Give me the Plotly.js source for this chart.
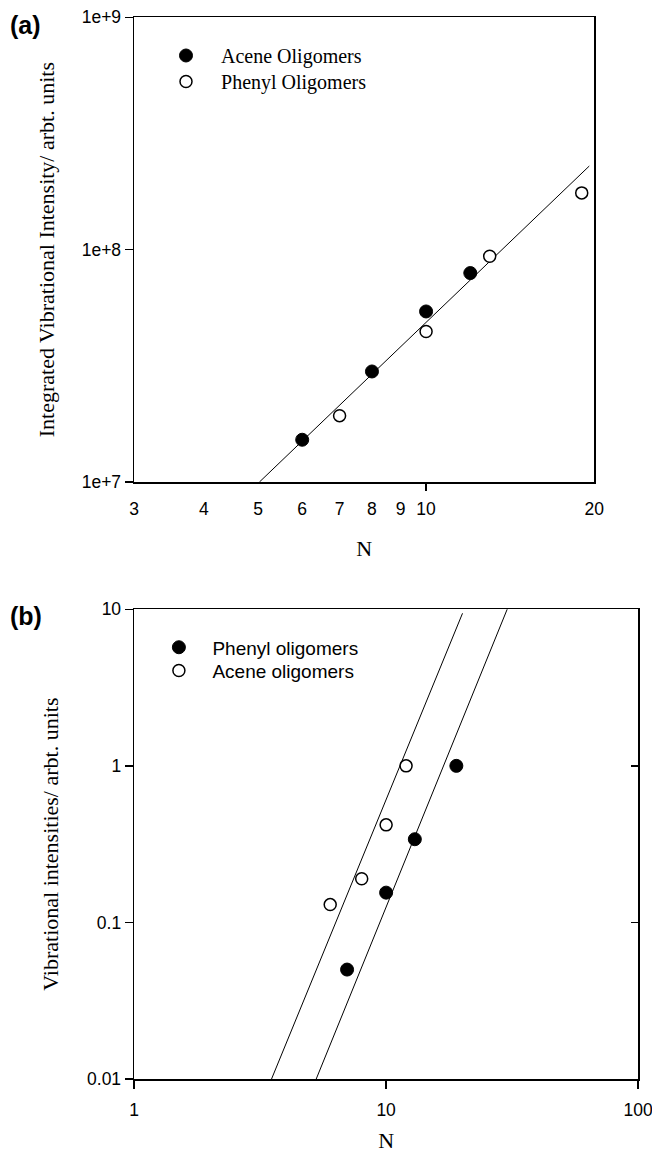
<!DOCTYPE html>
<html>
<head>
<meta charset="utf-8">
<script src="https://cdn.plot.ly/plotly-3.0.1.min.js"></script>
<style>
html,body{margin:0;padding:0;background:#fff;}
#chart{width:652px;height:1153px;}
</style>
</head>
<body>
<div id="chart"></div>
<script>
// ---------- Panel (a) data ----------
const aceneN_a = [6, 8, 10, 12];
const aceneI_a = [1.52e7, 2.99e7, 5.42e7, 7.93e7];
const phenylN_a = [7, 10, 13, 19];
const phenylI_a = [1.93e7, 4.44e7, 9.36e7, 1.755e8];
const fitN_a = [5.03, 19.6];
const fitI_a = [1.0e7, 2.29e8];
const xTicks_a = [3, 4, 5, 6, 7, 8, 9, 10, 20];
const xTickText_a = ['3', '4', '5', '6', '7', '8', '9', '10', '20'];
const yTicks_a = [1e7, 1e8, 1e9];
const yTickText_a = ['1e+7', '1e+8', '1e+9'];

// ---------- Panel (b) data ----------
const phenylN_b = [7, 10, 13, 19];
const phenylV_b = [0.05, 0.155, 0.34, 1.0];
const aceneN_b = [6, 8, 10, 12];
const aceneV_b = [0.13, 0.19, 0.42, 1.0];
const fit1N_b = [3.51, 20.1];
const fit1V_b = [0.01, 9.43];
const fit2N_b = [5.28, 30.6];
const fit2V_b = [0.01, 10.5];
const xTicks_b = [1, 10, 100];
const xTickText_b = ['1', '10', '100'];
const yTicks_b = [0.01, 0.1, 1, 10];
const yTickText_b = ['0.01', '0.1', '1', '10'];

const SANS = 'Liberation Sans, Arial, sans-serif';
const SERIF = 'Liberation Serif, Times New Roman, serif';
const filled = {symbol: 'circle', size: 13, color: '#000', line: {color: '#000', width: 1}};
const open = {symbol: 'circle', size: 12, color: '#fff', line: {color: '#000', width: 1.5}};

const traces = [
  {x: fitN_a, y: fitI_a, xaxis: 'x', yaxis: 'y', mode: 'lines', line: {color: '#000', width: 1}, showlegend: false, hoverinfo: 'skip'},
  {x: aceneN_a, y: aceneI_a, xaxis: 'x', yaxis: 'y', mode: 'markers', name: 'Acene Oligomers', marker: filled, legend: 'legend', cliponaxis: false},
  {x: phenylN_a, y: phenylI_a, xaxis: 'x', yaxis: 'y', mode: 'markers', name: 'Phenyl Oligomers', marker: open, legend: 'legend2', cliponaxis: false},
  {x: [null], y: [null], xaxis: 'x3', yaxis: 'y', mode: 'markers', showlegend: false, hoverinfo: 'skip'},

  {x: fit1N_b, y: fit1V_b, xaxis: 'x2', yaxis: 'y2', mode: 'lines', line: {color: '#000', width: 1}, showlegend: false, hoverinfo: 'skip'},
  {x: fit2N_b, y: fit2V_b, xaxis: 'x2', yaxis: 'y2', mode: 'lines', line: {color: '#000', width: 1}, showlegend: false, hoverinfo: 'skip', cliponaxis: false},
  {x: phenylN_b, y: phenylV_b, xaxis: 'x2', yaxis: 'y2', mode: 'markers', name: 'Phenyl oligomers', marker: filled, legend: 'legend3', cliponaxis: false},
  {x: aceneN_b, y: aceneV_b, xaxis: 'x2', yaxis: 'y2', mode: 'markers', name: 'Acene oligomers', marker: open, legend: 'legend4', cliponaxis: false},
  {x: [null], y: [null], xaxis: 'x2', yaxis: 'y4', mode: 'markers', showlegend: false, hoverinfo: 'skip'}
];

const axBase = {
  type: 'log', showgrid: false, zeroline: false, showline: true, linecolor: '#000', linewidth: 1.5,
  ticks: 'outside', ticklen: 8, tickwidth: 1.5, tickcolor: '#000', tickmode: 'array',
  tickfont: {family: SANS, size: 17.5, color: '#000'}, fixedrange: true, ticklabeloverflow: 'allow'
};

const legBase = {xanchor: 'left', yanchor: 'top', bgcolor: 'rgba(0,0,0,0)', borderwidth: 0};
const legTop = Object.assign({}, legBase, {x: 0.2316, itemwidth: 60, font: {family: SERIF, size: 20, color: '#000'}});
const legBot = Object.assign({}, legBase, {x: 0.223, itemwidth: 57, font: {family: SANS, size: 19, color: '#000'}});

const layout = {
  width: 652, height: 1153,
  margin: {l: 0, r: 0, t: 0, b: 0},
  paper_bgcolor: '#fff', plot_bgcolor: '#fff',
  showlegend: true,
  xaxis: Object.assign({}, axBase, {
    domain: [0.2057, 0.9113], anchor: 'y', range: [Math.log10(3), Math.log10(20)],
    tickvals: xTicks_a, ticktext: xTickText_a, ticks: '', mirror: true, ticklabelstandoff: 10,
    title: {text: 'N', font: {family: SERIF, size: 22, color: '#000'}, standoff: 23}
  }),
  xaxis3: Object.assign({}, axBase, {
    overlaying: 'x', anchor: 'y', side: 'bottom', range: [Math.log10(3), Math.log10(20)],
    tickvals: [10], ticktext: [''], showticklabels: false, showline: false
  }),
  yaxis: Object.assign({}, axBase, {
    domain: [0.58196, 0.98500], anchor: 'x', range: [7, 9],
    tickvals: yTicks_a, ticktext: yTickText_a, mirror: true,
    title: {text: 'Integrated Vibrational Intensity/ arbt. units', font: {family: SERIF, size: 22, color: '#000'}, standoff: 21}
  }),
  xaxis2: Object.assign({}, axBase, {
    domain: [0.2057, 0.9787], anchor: 'y2', range: [0, 2],
    tickvals: xTicks_b, ticktext: xTickText_b, mirror: true, ticklabelstandoff: 6,
    title: {text: 'N', font: {family: SERIF, size: 22, color: '#000'}, standoff: 20}
  }),
  yaxis2: Object.assign({}, axBase, {
    domain: [0.06418, 0.47155], anchor: 'x2', range: [-2, 1],
    tickvals: yTicks_b, ticktext: yTickText_b, mirror: true,
    title: {text: 'Vibrational intensities/ arbt. units', font: {family: SERIF, size: 22, color: '#000'}, standoff: 22}
  }),
  yaxis4: Object.assign({}, axBase, {
    overlaying: 'y2', anchor: 'x2', side: 'right', range: [-2, 1],
    tickvals: yTicks_b, ticks: 'inside', ticklen: 7, showticklabels: false, showline: false
  }),
  legend: Object.assign({}, legTop, {y: 0.96878}),
  legend2: Object.assign({}, legTop, {y: 0.94623}),
  legend3: Object.assign({}, legBot, {y: 0.45499}),
  legend4: Object.assign({}, legBot, {y: 0.43478}),
  annotations: [
    {text: '(a)', xref: 'paper', yref: 'paper', x: 8 / 652, y: 1 - 25 / 1153, xanchor: 'left', yanchor: 'middle', showarrow: false,
     font: {family: SANS, size: 25, color: '#000', weight: 'bold'}},
    {text: '(b)', xref: 'paper', yref: 'paper', x: 8 / 652, y: 1 - 616 / 1153, xanchor: 'left', yanchor: 'middle', showarrow: false,
     font: {family: SANS, size: 25, color: '#000', weight: 'bold'}}
  ]
};

Plotly.newPlot('chart', traces, layout, {displayModeBar: false, staticPlot: true});
</script>
</body>
</html>
